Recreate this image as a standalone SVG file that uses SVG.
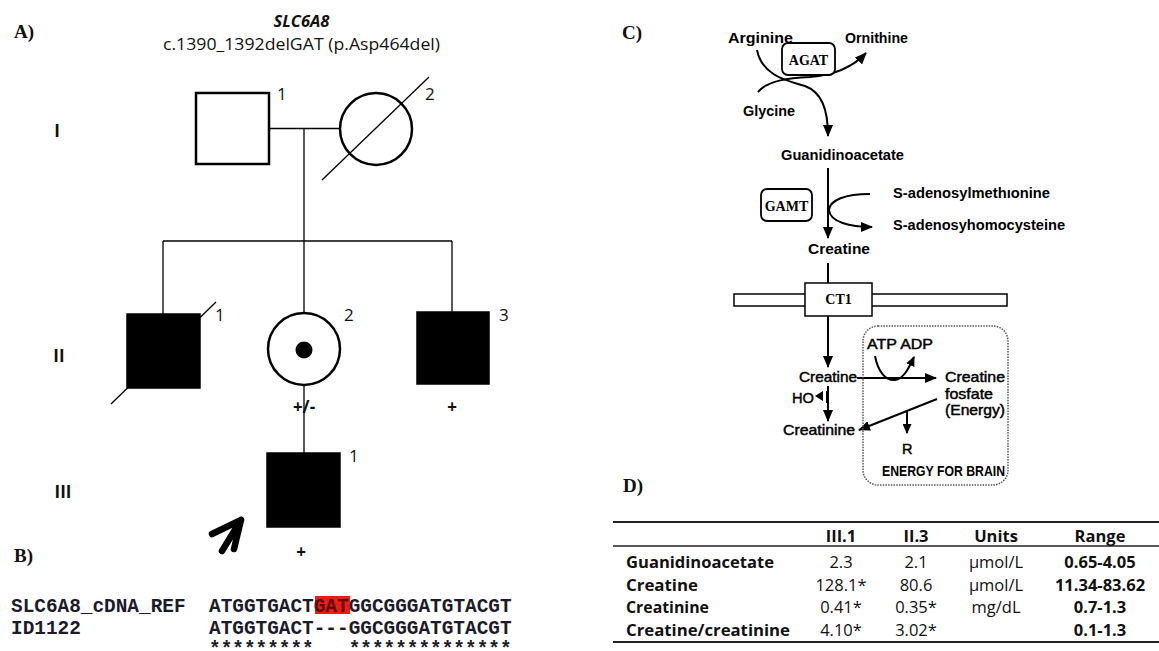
<svg xmlns="http://www.w3.org/2000/svg" width="1159" height="651" viewBox="0 0 1159 651">
<style>
.bg{fill:#fff}
.panel{font-family:'Liberation Serif','Times New Roman',serif;font-weight:bold;font-size:19px;fill:#111}
.cal{font-family:'Open Sans','Liberation Sans',sans-serif;fill:#111}
.num{font-family:'Open Sans','Liberation Sans',sans-serif;font-size:17px;fill:#111}
.gen{font-family:'Open Sans','Liberation Sans',sans-serif;font-weight:bold;font-size:17px;fill:#111}
.sym{stroke:#000;stroke-width:2.5;fill:#fff}
.aff{fill:#000;stroke:#000;stroke-width:1.5}
.ln{stroke:#000;stroke-width:1.3;fill:none}
.ar{font-family:'Liberation Sans',Arial,sans-serif;font-size:15px;font-weight:bold;fill:#000}
.arn{font-family:'Liberation Sans',Arial,sans-serif;font-size:14.5px;fill:#000;stroke:#000;stroke-width:0.45}
.enz{font-family:'Liberation Serif','Times New Roman',serif;font-weight:bold;font-size:14px;fill:#000}
.box{fill:#fff;stroke:#000;stroke-width:1.8}
.pw{stroke:#000;stroke-width:2;fill:none}
.seq{font-family:'Liberation Mono','Courier New',monospace;font-weight:bold;font-size:19.4px;fill:#1b1b2a}
.tb{font-family:'Open Sans','Liberation Sans',sans-serif;font-size:16.5px;fill:#111}
.b{font-weight:bold}
.rule{stroke:#222;fill:none}
</style>
<defs>
<marker id="ah" viewBox="0 0 12 10" refX="11" refY="5" markerWidth="12" markerHeight="10" markerUnits="userSpaceOnUse" orient="auto">
<path d="M0,0 L12,5 L0,10 z" fill="#000"/>
</marker>
<marker id="ahs" viewBox="0 0 10 9" refX="9" refY="4.5" markerWidth="10" markerHeight="9" markerUnits="userSpaceOnUse" orient="auto">
<path d="M0,0 L10,4.5 L0,9 z" fill="#000"/>
</marker>
</defs>
<rect class="bg" x="0" y="0" width="1159" height="651"/>

<!-- Panel labels -->
<text class="panel" x="14" y="38">A)</text>
<text class="panel" x="14" y="562">B)</text>
<text class="panel" x="622" y="39">C)</text>
<text class="panel" x="623" y="492">D)</text>

<!-- Panel A title -->
<text class="cal" x="301.5" y="27" text-anchor="middle" font-size="16.5" font-weight="bold" font-style="italic">SLC6A8</text>
<text class="cal" x="163" y="50" font-size="16" textLength="277" lengthAdjust="spacingAndGlyphs">c.1390_1392delGAT (p.Asp464del)</text>

<!-- Generation labels -->
<text class="gen" x="57" y="137" text-anchor="middle">I</text>
<text class="gen" x="59" y="362" text-anchor="middle">II</text>
<text class="gen" x="63" y="498" text-anchor="middle">III</text>

<!-- Connectors -->
<g id="connectors">
<line class="ln" x1="269" y1="128.5" x2="340" y2="128.5"/>
<line class="ln" x1="304" y1="128.5" x2="304" y2="241"/>
<line class="ln" x1="163" y1="241" x2="452" y2="241"/>
<line class="ln" x1="163" y1="241" x2="163" y2="314"/>
<line class="ln" x1="304" y1="241" x2="304" y2="313"/>
<line class="ln" x1="452" y1="241" x2="452" y2="312"/>
<line class="ln" x1="304" y1="385" x2="304" y2="453"/>
</g>

<g id="I-1">
<rect class="sym" x="196" y="93" width="73" height="71"/>
<text class="num" x="277" y="100">1</text>
</g>
<g id="I-2">
<circle class="sym" cx="376" cy="129" r="36"/>
<line class="ln" x1="322" y1="180" x2="429" y2="77"/>
<text class="num" x="425" y="100">2</text>
</g>
<g id="II-1">
<line class="ln" x1="111" y1="404" x2="216" y2="302"/>
<rect class="aff" x="127" y="314" width="73" height="74"/>
<text class="num" x="215" y="321">1</text>
</g>
<g id="II-2">
<circle class="sym" cx="304" cy="349" r="36"/>
<circle cx="304" cy="350" r="8.5" fill="#000"/>
<text class="num" x="344" y="321">2</text>
<text class="gen" x="304" y="413" text-anchor="middle" font-size="16">+/-</text>
</g>
<g id="II-3">
<rect class="aff" x="417" y="312" width="72" height="72"/>
<text class="num" x="499" y="321">3</text>
<text class="gen" x="452" y="413" text-anchor="middle" font-size="16">+</text>
</g>
<g id="III-1">
<rect class="aff" x="267" y="453" width="73" height="74"/>
<text class="num" x="349" y="462">1</text>
<text class="gen" x="301" y="558" text-anchor="middle" font-size="16">+</text>
</g>
<g id="proband-arrow">
<path d="M212,534 L241,520 M222,551 L241,520 M234,549 L241,520" fill="none" stroke="#000" stroke-width="6.5" stroke-linecap="round" stroke-linejoin="round"/>
</g>

<!-- Panel B -->
<g id="alignment">
<rect x="315" y="596" width="35" height="18" fill="#ee1b12"/>
<text class="seq" x="11" y="612">SLC6A8_cDNA_REF</text>
<text class="seq" x="209" y="612">ATGGTGACT<tspan fill="#5a0a0a">GAT</tspan>GGCGGGATGTACGT</text>
<text class="seq" x="11" y="634">ID1122</text>
<text class="seq" x="209" y="634">ATGGTGACT---GGCGGGATGTACGT</text>
<text class="seq" x="209" y="655" xml:space="preserve">*********   **************</text>
</g>

<!-- Panel C -->
<g id="pathway-connectors">
<path class="pw" d="M757,50 C762,76 788,81 805,86 C821,92 828,108 828,136" marker-end="url(#ah)"/>
<path class="pw" d="M758,92 C768,80 790,78 810,77 C835,75 853,67 866,53" marker-end="url(#ah)"/>
<line class="pw" x1="828" y1="168" x2="828" y2="238" marker-end="url(#ah)"/>
<path class="pw" d="M870,194 C845,194 830,200 829,210 C830,222 850,227 872,227" marker-end="url(#ah)"/>
<line class="pw" x1="828" y1="263" x2="828" y2="283"/>
<line class="pw" x1="828" y1="316" x2="828" y2="367" marker-end="url(#ah)"/>
<path class="pw" d="M875,356 C878,372 886,381 895,380 C903,379 908,370 914,357" marker-end="url(#ahs)"/>
<line class="pw" x1="857" y1="378" x2="936" y2="378" marker-end="url(#ah)"/>
<line class="pw" x1="828" y1="386" x2="828" y2="421" marker-end="url(#ah)"/>
<line class="pw" x1="827" y1="391" x2="827" y2="403"/>
<path d="M815,396 L823,391 L823,401 z" fill="#000"/>
<line class="pw" x1="937" y1="399" x2="859" y2="430" marker-end="url(#ah)"/>
<line class="pw" x1="907" y1="410" x2="907" y2="433" marker-end="url(#ahs)"/>
</g>

<g id="AGAT">
<rect class="box" x="782" y="43" width="53" height="32" rx="6"/>
<text class="enz" x="808.5" y="65" text-anchor="middle">AGAT</text>
</g>
<g id="GAMT">
<rect class="box" x="761" y="189" width="51" height="32" rx="6"/>
<text class="enz" x="786.5" y="211" text-anchor="middle">GAMT</text>
</g>
<g id="membrane">
<rect x="734" y="294" width="273" height="12" fill="#fff" stroke="#000" stroke-width="1.5"/>
</g>
<g id="CT1">
<rect x="805" y="283" width="67" height="33" fill="#fff" stroke="#000" stroke-width="1.5"/>
<text class="enz" x="838.5" y="304" text-anchor="middle">CT1</text>
</g>
<g id="brain-box">
<rect x="863" y="326" width="145" height="159" rx="15" fill="none" stroke="#555" stroke-width="1.5" stroke-dasharray="1.5 1.2"/>
</g>

<g id="metabolites">
<text class="ar" x="728" y="43" textLength="65" lengthAdjust="spacingAndGlyphs">Arginine</text>
<text class="ar" x="845" y="43" textLength="63" lengthAdjust="spacingAndGlyphs">Ornithine</text>
<text class="ar" x="743" y="116" textLength="52" lengthAdjust="spacingAndGlyphs">Glycine</text>
<text class="ar" x="781" y="160" textLength="123" lengthAdjust="spacingAndGlyphs">Guanidinoacetate</text>
<text class="ar" x="893" y="198" textLength="157" lengthAdjust="spacingAndGlyphs">S-adenosylmethıonine</text>
<text class="ar" x="893" y="230" textLength="172" lengthAdjust="spacingAndGlyphs">S-adenosyhomocysteine</text>
<text class="ar" x="808" y="254" textLength="62" lengthAdjust="spacingAndGlyphs">Creatine</text>
<text class="arn" x="867" y="349" textLength="66" lengthAdjust="spacingAndGlyphs">ATP ADP</text>
<text class="arn" x="799" y="382" textLength="58" lengthAdjust="spacingAndGlyphs">Creatine</text>
<text class="arn" x="945" y="382" textLength="60" lengthAdjust="spacingAndGlyphs">Creatine</text>
<text class="arn" x="945" y="399" textLength="48" lengthAdjust="spacingAndGlyphs">fosfate</text>
<text class="arn" x="945" y="415" textLength="60" lengthAdjust="spacingAndGlyphs">(Energy)</text>
<text class="arn" x="792" y="403" textLength="22" lengthAdjust="spacingAndGlyphs">HO</text>
<text class="arn" x="783" y="435" textLength="72" lengthAdjust="spacingAndGlyphs">Creatinine</text>
<text class="arn" x="902" y="454">R</text>
<text class="ar" x="882" y="476" font-size="10.5" textLength="123" lengthAdjust="spacingAndGlyphs">ENERGY FOR BRAIN</text>
</g>

<!-- Panel D table -->
<g id="table">
<line class="rule" x1="613" y1="522" x2="1159" y2="522" stroke-width="2.2"/>
<line class="rule" x1="613" y1="546" x2="1159" y2="546" stroke-width="1.5"/>
<line class="rule" x1="613" y1="642" x2="1159" y2="642" stroke-width="2.2"/>
<g class="tb b" text-anchor="middle">
<text x="841" y="542">III.1</text>
<text x="916" y="542">II.3</text>
<text x="996" y="542">Units</text>
<text x="1100" y="542">Range</text>
</g>
<g class="tb b">
<text x="626" y="568" textLength="148" lengthAdjust="spacingAndGlyphs">Guanidinoacetate</text>
<text x="626" y="591" textLength="72" lengthAdjust="spacingAndGlyphs">Creatine</text>
<text x="626" y="613" textLength="83" lengthAdjust="spacingAndGlyphs">Creatinine</text>
<text x="626" y="636" textLength="164" lengthAdjust="spacingAndGlyphs">Creatine/creatinine</text>
</g>
<g class="tb" text-anchor="middle">
<text x="841" y="568">2.3</text>
<text x="841" y="591">128.1*</text>
<text x="841" y="613">0.41*</text>
<text x="841" y="636">4.10*</text>
<text x="916" y="568">2.1</text>
<text x="916" y="591">80.6</text>
<text x="916" y="613">0.35*</text>
<text x="916" y="636">3.02*</text>
<text x="996" y="568">μmol/L</text>
<text x="996" y="591">μmol/L</text>
<text x="996" y="613">mg/dL</text>
</g>
<g class="tb b" text-anchor="middle">
<text x="1100" y="568">0.65-4.05</text>
<text x="1100" y="591">11.34-83.62</text>
<text x="1100" y="613">0.7-1.3</text>
<text x="1100" y="636">0.1-1.3</text>
</g>
</g>
</svg>
